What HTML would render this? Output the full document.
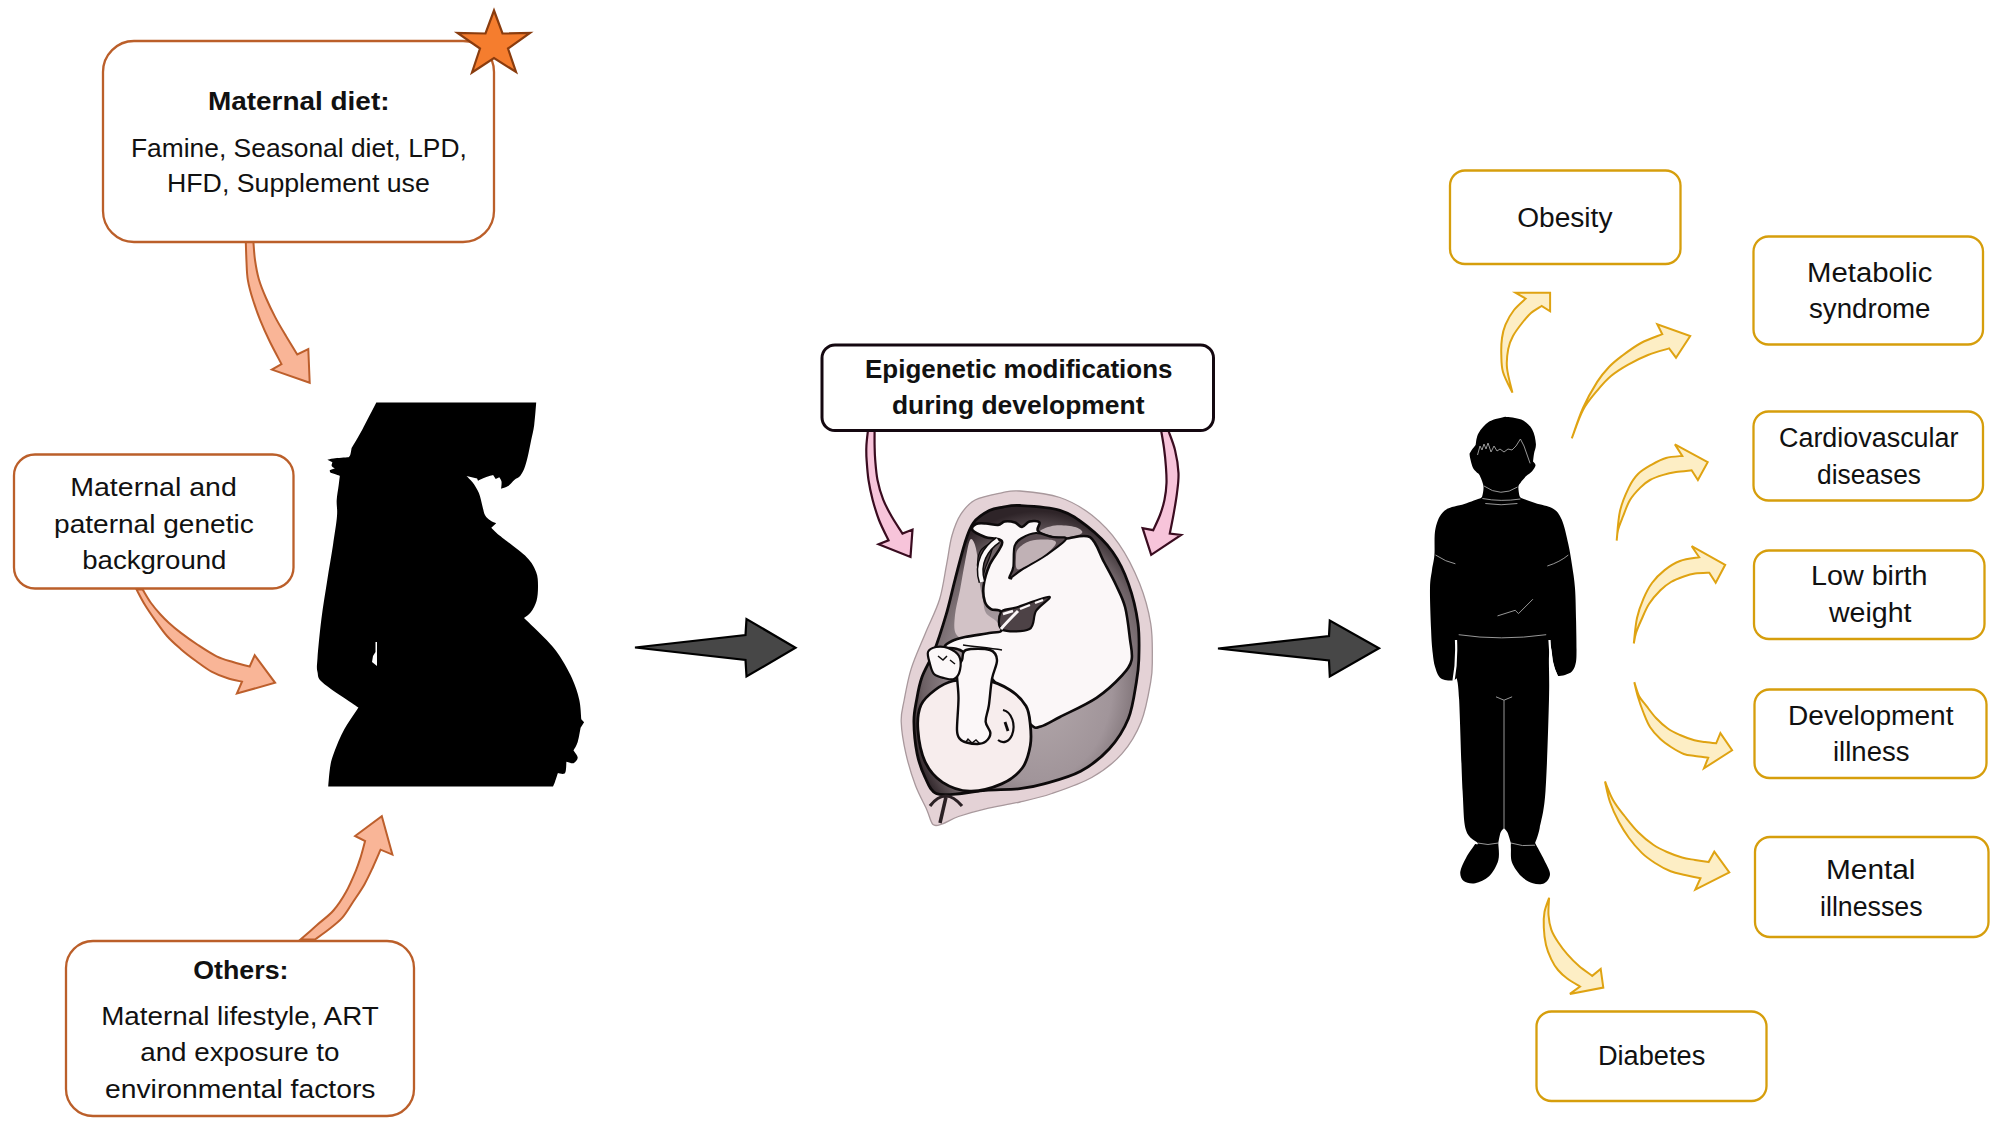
<!DOCTYPE html>
<html><head><meta charset="utf-8">
<style>
html,body{margin:0;padding:0;background:#fff;width:2000px;height:1129px;overflow:hidden}
svg{display:block}
text{font-family:"Liberation Sans",sans-serif;fill:#111}
.b{font-weight:bold}
</style></head><body>
<svg width="2000" height="1129" viewBox="0 0 2000 1129">
<rect width="2000" height="1129" fill="#fff"/>

<!-- ARROWS -->
<g fill="#f9b597" stroke="#bd5f2c" stroke-width="2" stroke-linejoin="miter">
<path d="M245.8,242.0 C245.9,245.3 246.2,255.6 246.5,262.0 C246.8,268.4 246.8,274.0 247.9,280.3 C249.0,286.6 250.9,293.4 253.0,300.0 C255.1,306.6 257.4,313.2 260.2,320.2 C263.0,327.2 266.4,334.7 270.0,342.0 C273.6,349.3 279.6,360.4 281.5,364.1 L271.9,369.6 L309.7,382.7 L308.3,349.0 L297.3,354.5 C295.4,351.4 289.7,342.2 286.0,336.0 C282.3,329.8 278.6,323.7 275.3,317.4 C272.0,311.1 268.8,304.4 266.0,298.0 C263.2,291.6 260.6,285.3 258.8,279.0 C257.0,272.7 255.9,266.2 255.0,260.0 C254.1,253.8 253.7,245.0 253.4,242.0 Z"/>
<path d="M136.6,589.6 C138.0,592.2 141.8,599.8 145.0,605.0 C148.2,610.2 151.8,615.4 155.5,620.6 C159.2,625.8 162.8,631.2 167.0,636.0 C171.2,640.8 176.1,645.0 180.9,649.2 C185.7,653.4 190.9,657.3 196.0,661.0 C201.1,664.7 206.3,668.8 211.5,671.6 C216.7,674.4 221.9,676.3 227.0,678.0 C232.1,679.7 239.5,681.1 242.0,681.7 L236.9,693.5 L275.1,682.8 L254.7,655.3 L249.7,666.5 C246.9,665.8 238.5,663.7 233.0,662.0 C227.5,660.3 222.4,659.1 216.6,656.3 C210.8,653.5 203.9,648.9 198.0,645.0 C192.1,641.1 185.7,636.6 180.9,632.9 C176.1,629.2 172.4,626.1 169.0,623.0 C165.6,619.9 163.5,617.8 160.5,614.5 C157.5,611.2 154.0,607.1 151.0,603.0 C148.0,598.9 144.1,591.8 142.7,589.6 Z"/>
<path d="M300.5,939.6 C303.2,937.2 311.5,929.9 317.0,925.0 C322.5,920.1 328.6,916.0 333.4,910.5 C338.2,905.0 342.3,898.6 346.0,892.0 C349.7,885.4 353.3,876.8 355.8,870.8 C358.3,864.8 359.4,861.0 361.0,856.0 C362.6,851.0 364.4,843.5 365.1,841.0 L355.1,836.0 L381.8,816.2 L392.4,854.6 L380.6,849.7 C379.3,852.6 375.7,861.2 373.0,867.0 C370.3,872.8 367.7,878.6 364.4,884.4 C361.1,890.2 356.7,896.4 353.0,902.0 C349.3,907.6 346.3,913.2 342.1,917.9 C337.9,922.6 332.6,926.4 328.0,930.0 C323.4,933.6 317.0,938.0 314.8,939.6 Z"/>
</g>
<g fill="#f7c4da" stroke="#3a0c20" stroke-width="2.2" stroke-linejoin="miter">
<path d="M867.9,431.0 C867.6,433.5 866.6,441.2 866.4,446.0 C866.2,450.8 866.2,454.2 866.6,459.9 C867.0,465.6 867.5,473.4 868.5,480.0 C869.5,486.6 870.9,493.0 872.6,499.7 C874.4,506.4 876.4,513.2 879.0,520.0 C881.6,526.8 886.9,536.9 888.5,540.3 L878.6,544.3 L910.5,556.9 L912.5,529.6 L902.5,533.6 C900.8,530.8 895.2,522.6 892.0,517.0 C888.8,511.4 885.6,505.9 883.2,499.7 C880.8,493.5 878.8,486.6 877.5,480.0 C876.2,473.4 875.7,465.7 875.2,459.9 C874.7,454.1 874.7,449.8 874.6,445.0 C874.5,440.2 874.6,433.3 874.6,431.0 Z"/>
<path d="M1168.5,431.0 C1169.6,434.2 1173.3,443.0 1175.0,450.0 C1176.7,457.0 1178.2,465.9 1178.5,473.1 C1178.8,480.3 1177.8,486.4 1177.0,493.0 C1176.2,499.6 1175.0,506.2 1173.8,513.0 C1172.6,519.8 1170.5,530.1 1169.8,533.5 L1181.1,534.9 L1151.2,554.8 L1142.6,528.2 L1153.2,530.2 C1154.3,527.7 1158.1,520.1 1160.0,515.0 C1161.9,509.9 1163.4,505.0 1164.5,499.7 C1165.6,494.4 1166.3,488.5 1166.5,483.0 C1166.7,477.5 1166.3,472.3 1165.9,466.5 C1165.5,460.7 1164.8,453.9 1164.0,448.0 C1163.2,442.1 1161.7,433.8 1161.2,431.0 Z"/>
</g>
<g fill="#fdeec5" stroke="#dfa312" stroke-width="2" stroke-linejoin="miter">
<path d="M1512.4,392.6 C1510.8,389.2 1504.8,378.4 1503.0,372.0 C1501.2,365.6 1501.5,360.1 1501.3,354.4 C1501.1,348.7 1501.3,343.0 1502.0,338.0 C1502.7,333.0 1503.5,329.3 1505.5,324.6 C1507.5,319.9 1510.6,314.3 1514.0,310.0 C1517.4,305.7 1523.8,300.5 1525.7,298.6 L1515.6,292.8 L1550.1,292.8 L1550.1,311.3 L1541.6,306.0 C1539.8,307.2 1534.2,310.2 1531.0,313.0 C1527.8,315.8 1525.5,318.7 1522.5,322.5 C1519.5,326.3 1515.4,331.6 1513.0,336.0 C1510.6,340.4 1509.2,343.8 1508.2,349.1 C1507.2,354.4 1506.3,360.8 1507.0,368.0 C1507.7,375.2 1511.5,388.5 1512.4,392.6 Z"/>
<path d="M1571.8,438.3 C1573.7,433.2 1578.8,417.4 1583.0,408.0 C1587.2,398.6 1592.9,388.7 1597.2,381.9 C1601.5,375.1 1604.9,371.3 1609.0,367.0 C1613.1,362.7 1616.7,359.9 1622.0,355.9 C1627.3,351.9 1634.3,346.6 1641.0,343.0 C1647.7,339.4 1658.8,335.7 1662.3,334.2 L1657.3,324.3 L1690.2,336.0 L1676.0,357.7 L1669.1,348.4 C1665.6,349.5 1654.8,352.3 1648.0,355.0 C1641.2,357.7 1634.4,361.1 1628.2,364.6 C1622.0,368.1 1616.2,371.7 1611.0,376.0 C1605.8,380.3 1601.9,384.9 1597.2,390.6 C1592.5,396.3 1587.2,402.1 1583.0,410.0 C1578.8,417.9 1573.7,433.6 1571.8,438.3 Z"/>
<path d="M1616.7,540.6 C1617.2,535.7 1618.0,519.8 1620.0,511.0 C1622.0,502.2 1625.8,493.8 1628.8,487.6 C1631.8,481.4 1634.2,477.8 1638.0,474.0 C1641.8,470.2 1647.1,467.3 1651.8,464.6 C1656.5,461.9 1660.9,459.4 1666.0,458.0 C1671.1,456.6 1679.6,456.2 1682.3,455.9 L1674.9,444.4 L1707.7,462.2 L1697.9,480.1 L1691.6,470.3 C1689.0,470.6 1680.7,471.2 1676.0,472.0 C1671.3,472.8 1667.6,473.6 1663.3,474.9 C1659.0,476.2 1653.8,477.9 1650.0,480.0 C1646.2,482.1 1643.6,484.3 1640.3,487.6 C1637.0,490.9 1632.9,495.2 1630.0,500.0 C1627.1,504.8 1625.0,511.4 1623.0,516.4 C1621.0,521.4 1619.0,526.0 1618.0,530.0 C1617.0,534.0 1616.9,538.8 1616.7,540.6 Z"/>
<path d="M1633.8,643.4 C1634.3,639.2 1635.4,625.4 1637.0,618.0 C1638.6,610.6 1640.9,604.6 1643.4,598.8 C1645.9,593.0 1648.5,587.8 1652.0,583.0 C1655.5,578.2 1659.9,573.8 1664.6,570.1 C1669.3,566.4 1674.2,563.1 1680.0,561.0 C1685.8,558.9 1696.0,557.9 1699.2,557.3 L1691.7,546.2 L1725.2,564.8 L1715.7,582.8 L1709.3,572.7 C1706.9,572.8 1699.2,572.9 1695.0,573.5 C1690.8,574.1 1687.8,575.1 1683.8,576.5 C1679.8,577.9 1674.9,579.7 1671.0,582.0 C1667.1,584.3 1664.1,586.6 1660.4,590.3 C1656.7,594.0 1652.2,599.0 1649.0,604.0 C1645.8,609.0 1643.5,615.2 1641.3,620.0 C1639.1,624.8 1637.2,629.1 1636.0,633.0 C1634.8,636.9 1634.2,641.7 1633.8,643.4 Z"/>
<path d="M1634.3,682.2 C1635.1,684.5 1637.0,692.0 1639.0,696.0 C1641.0,700.0 1643.8,702.4 1646.6,706.1 C1649.4,709.8 1652.5,714.3 1656.0,718.0 C1659.5,721.7 1663.8,725.7 1667.8,728.5 C1671.8,731.3 1675.6,733.0 1680.0,735.0 C1684.4,737.0 1690.2,739.0 1694.4,740.2 C1698.6,741.4 1701.4,741.5 1705.0,742.0 C1708.6,742.5 1714.3,743.1 1716.2,743.3 L1720.4,733.2 L1732.1,750.3 L1704.0,768.3 L1708.2,757.7 C1706.0,757.4 1699.1,756.6 1695.0,756.0 C1690.9,755.4 1687.8,755.5 1683.8,754.0 C1679.8,752.5 1674.9,749.5 1671.0,747.0 C1667.1,744.5 1663.9,742.4 1660.4,739.1 C1656.9,735.8 1652.8,731.4 1650.0,727.0 C1647.2,722.6 1645.4,717.5 1643.4,712.5 C1641.4,707.5 1639.5,702.0 1638.0,697.0 C1636.5,692.0 1634.9,684.7 1634.3,682.2 Z"/>
<path d="M1605.0,781.5 C1606.3,784.6 1609.8,794.2 1613.0,800.0 C1616.2,805.8 1620.3,810.7 1624.5,816.0 C1628.7,821.3 1633.2,827.2 1638.0,832.0 C1642.8,836.8 1648.5,841.5 1653.3,844.8 C1658.1,848.1 1662.2,849.9 1667.0,852.0 C1671.8,854.1 1677.4,856.2 1682.1,857.5 C1686.8,858.8 1690.6,859.2 1695.0,860.0 C1699.4,860.8 1706.3,861.8 1708.6,862.1 L1714.3,851.7 L1729.3,872.5 L1695.3,889.7 L1700.5,878.2 C1697.9,877.7 1690.0,876.1 1685.0,875.0 C1680.0,873.9 1675.6,873.3 1670.6,871.3 C1665.6,869.3 1659.8,866.1 1655.0,863.0 C1650.2,859.9 1646.1,857.1 1641.8,852.9 C1637.5,848.7 1632.8,843.2 1629.0,838.0 C1625.2,832.8 1622.0,827.8 1618.8,821.8 C1615.6,815.8 1612.3,808.7 1610.0,802.0 C1607.7,795.3 1605.8,784.9 1605.0,781.5 Z"/>
<path d="M1549.1,897.8 C1548.3,900.2 1545.4,907.0 1544.5,912.0 C1543.6,917.0 1543.5,922.0 1543.8,927.5 C1544.0,933.0 1544.8,939.7 1546.0,945.0 C1547.2,950.3 1549.3,955.2 1551.3,959.4 C1553.3,963.6 1555.3,966.8 1558.0,970.0 C1560.7,973.2 1563.5,975.8 1567.2,978.5 C1570.9,981.2 1577.9,985.2 1580.0,986.5 L1569.9,993.9 L1603.3,987.6 L1600.7,969.0 L1592.2,975.9 C1590.0,974.2 1583.2,969.6 1579.0,966.0 C1574.8,962.4 1570.7,958.1 1567.2,954.1 C1563.7,950.1 1560.7,946.1 1558.0,942.0 C1555.3,937.9 1552.9,934.1 1551.3,929.6 C1549.7,925.1 1548.9,920.3 1548.5,915.0 C1548.1,909.7 1549.0,900.7 1549.1,897.8 Z"/>
</g>
<!-- END ARROWS -->

<!-- ORANGE BOXES -->
<g fill="#fff" stroke="#bb5f2a" stroke-width="2.3">
<rect x="103" y="41" width="391" height="201" rx="31"/>
<rect x="14" y="454.5" width="279.5" height="134" rx="21"/>
<rect x="66" y="941" width="348" height="175" rx="27"/>
</g>
<!-- EPIGENETIC BOX -->
<rect x="822" y="345" width="391.5" height="85.5" rx="13" fill="#fff" stroke="#140810" stroke-width="3"/>
<!-- YELLOW BOXES -->
<g fill="#fff" stroke="#d69e0c" stroke-width="2.3">
<rect x="1450" y="170.5" width="230.5" height="93.5" rx="15"/>
<rect x="1753.5" y="236.5" width="229.5" height="108" rx="15"/>
<rect x="1753.5" y="411.5" width="229.5" height="89" rx="15"/>
<rect x="1754" y="550.5" width="230.5" height="88.5" rx="15"/>
<rect x="1754.5" y="689.5" width="232" height="88.5" rx="15"/>
<rect x="1755" y="837" width="233.5" height="100" rx="15"/>
<rect x="1536.5" y="1011.5" width="230" height="89.5" rx="15"/>
</g>


<!-- STAR -->
<path d="M494,10.5 L502.5,33.5 L530,33 L508,48.5 L516,72 L494,58 L472,72.5 L480,48.5 L457.5,33 L485.5,33.5 Z" fill="#f57d2e" stroke="#8a3c0e" stroke-width="2.2" stroke-linejoin="miter"/>

<!-- FETUS -->
<defs>
<radialGradient id="cg" cx="0.55" cy="0.62" r="0.6">
<stop offset="0" stop-color="#b4a9ac"/><stop offset="0.55" stop-color="#a1959a"/><stop offset="0.85" stop-color="#6c6064"/><stop offset="1" stop-color="#2e2428"/>
</radialGradient>
</defs>
<path d="M1020.0,491.0 C1029.7,491.8 1048.0,493.5 1059.9,497.5 C1071.9,501.5 1081.9,507.4 1091.7,515.1 C1101.5,522.8 1110.8,532.4 1118.8,543.8 C1126.8,555.2 1134.3,570.3 1139.6,583.6 C1144.9,596.9 1148.6,610.8 1150.7,623.5 C1152.8,636.2 1152.3,650.3 1152.3,660.0 C1152.3,669.7 1152.5,671.6 1150.7,681.9 C1148.9,692.2 1146.0,709.8 1141.2,721.7 C1136.4,733.7 1130.2,744.3 1122.0,753.6 C1113.8,762.9 1103.4,770.9 1091.7,777.5 C1080.0,784.1 1063.9,789.4 1051.9,793.5 C1040.0,797.6 1031.0,799.5 1020.0,802.0 C1009.0,804.5 995.9,806.4 985.6,808.8 C975.4,811.2 965.7,814.0 958.5,816.5 C951.3,819.0 946.9,822.5 942.6,823.8 C938.4,825.1 935.6,826.9 933.0,824.5 C930.4,822.1 929.6,815.9 926.7,809.4 C923.8,802.9 919.0,794.8 915.5,785.5 C912.0,776.2 908.3,764.2 905.9,753.6 C903.5,743.0 901.5,730.6 901.2,721.7 C900.9,712.8 902.5,708.9 904.2,700.0 C905.9,691.1 907.8,679.6 911.3,668.4 C914.8,657.2 920.8,644.5 925.5,633.0 C930.2,621.5 936.1,610.8 939.6,599.3 C943.1,587.8 944.6,574.4 946.7,563.8 C948.8,553.2 949.6,543.8 952.0,535.5 C954.4,527.2 957.0,520.1 960.9,514.2 C964.8,508.3 968.3,503.6 975.1,500.0 C981.9,496.4 994.1,494.3 1001.6,492.8 C1009.1,491.3 1010.3,490.2 1020.0,491.0 Z" fill="#e4d2d6" stroke="#a8989c" stroke-width="1.3"/>
<path d="M1020.0,505.5 C1029.5,506.0 1048.7,506.9 1059.9,510.3 C1071.1,513.8 1078.2,519.3 1087.0,526.2 C1095.8,533.1 1105.6,542.1 1112.5,551.7 C1119.4,561.3 1124.2,571.6 1128.4,583.6 C1132.7,595.6 1136.3,610.8 1138.0,623.5 C1139.7,636.2 1139.1,650.3 1138.8,660.0 C1138.5,669.7 1138.1,672.1 1136.4,681.9 C1134.7,691.6 1132.9,707.4 1128.4,718.5 C1123.9,729.6 1117.3,740.0 1109.3,748.8 C1101.3,757.6 1091.5,765.4 1080.6,771.2 C1069.7,777.1 1054.0,781.0 1043.9,783.9 C1033.8,786.8 1029.7,787.6 1020.0,788.7 C1010.3,789.8 995.3,789.5 985.6,790.3 C975.9,791.1 969.9,793.0 961.7,793.5 C953.5,794.0 942.3,796.2 936.2,793.5 C930.1,790.8 928.3,784.1 925.1,777.5 C921.9,770.9 919.0,762.9 917.1,753.6 C915.2,744.3 914.0,730.6 913.9,721.7 C913.8,712.8 915.3,707.4 916.6,700.0 C917.9,692.6 919.0,685.5 921.9,677.3 C924.8,669.1 930.3,661.1 934.3,650.7 C938.3,640.4 942.5,627.0 946.0,615.2 C949.5,603.4 951.9,591.6 955.0,579.8 C958.1,568.0 961.5,553.8 964.5,544.3 C967.5,534.8 969.2,528.6 973.3,523.0 C977.4,517.4 984.3,513.2 989.3,510.6 C994.2,508.0 997.9,508.0 1003.0,507.1 C1008.1,506.2 1010.5,505.0 1020.0,505.5 Z" fill="url(#cg)" stroke="#0d0a0b" stroke-width="2.8"/>
<path d="M970.0,540.0 C968.3,542.8 966.7,553.7 965.0,562.0 C963.3,570.3 961.7,581.2 960.0,590.0 C958.3,598.8 955.7,607.7 955.0,615.0 C954.3,622.3 953.5,629.7 956.0,634.0 C958.5,638.3 964.2,640.5 970.0,641.0 C975.8,641.5 985.8,638.8 991.0,637.0 C996.2,635.2 1000.2,632.7 1001.0,630.0 C1001.8,627.3 998.5,623.8 996.0,621.0 C993.5,618.2 988.2,616.5 986.0,613.0 C983.8,609.5 984.0,604.7 983.0,600.0 C982.0,595.3 980.8,591.3 980.0,585.0 C979.2,578.7 978.8,568.7 978.0,562.0 C977.2,555.3 976.3,548.7 975.0,545.0 C973.7,541.3 971.7,537.2 970.0,540.0 Z" fill="#d2c2c6" stroke="none"/>
<path d="M1040.0,531.0 C1041.2,529.2 1049.2,526.2 1055.0,525.5 C1060.8,524.8 1070.5,525.8 1075.0,527.0 C1079.5,528.2 1083.5,531.2 1082.0,533.0 C1080.5,534.8 1071.7,537.0 1066.0,537.5 C1060.3,538.0 1052.3,537.1 1048.0,536.0 C1043.7,534.9 1038.8,532.8 1040.0,531.0 Z" fill="#bcaeb2" stroke="none"/>
<path d="M982.0,549.0 C984.5,546.5 991.7,541.8 993.0,543.0 C994.3,544.2 991.3,551.7 990.0,556.0 C988.7,560.3 986.3,565.0 985.0,569.0 C983.7,573.0 983.2,579.7 982.0,580.0 C980.8,580.3 978.7,574.7 978.0,571.0 C977.3,567.3 977.3,561.7 978.0,558.0 C978.7,554.3 979.5,551.5 982.0,549.0 Z" fill="#4c4044" stroke="#0d0a0b" stroke-width="1.2"/>
<path d="M972.4,530.0 C970.9,527.8 973.7,525.1 976.0,524.0 C978.3,522.9 982.3,523.3 986.0,523.5 C989.7,523.7 994.9,525.3 998.0,525.0 C1001.1,524.7 1001.9,521.9 1004.7,521.5 C1007.5,521.1 1012.1,521.6 1015.0,522.5 C1017.9,523.4 1019.6,527.2 1022.0,527.0 C1024.4,526.8 1026.6,522.3 1029.5,521.5 C1032.4,520.7 1038.0,520.8 1039.4,522.4 C1040.8,524.0 1035.9,528.6 1038.0,531.0 C1040.1,533.4 1047.3,535.8 1052.0,537.0 C1056.7,538.2 1059.7,538.5 1066.0,538.5 C1072.3,538.5 1083.7,533.3 1090.0,537.2 C1096.3,541.1 1099.7,554.0 1104.0,562.0 C1108.3,570.0 1112.5,577.4 1116.0,585.0 C1119.5,592.6 1122.9,598.4 1125.2,607.5 C1127.5,616.6 1128.9,630.6 1130.0,639.4 C1131.1,648.1 1132.9,654.0 1131.6,660.0 C1130.3,666.0 1127.8,669.2 1122.0,675.5 C1116.2,681.8 1106.8,690.9 1096.5,697.8 C1086.2,704.7 1069.2,712.2 1059.9,717.0 C1050.6,721.8 1045.5,725.2 1040.7,726.5 C1035.9,727.8 1036.3,729.3 1031.2,724.9 C1026.1,720.5 1016.5,707.6 1010.0,700.0 C1003.5,692.4 997.8,685.3 992.0,679.0 C986.2,672.7 980.3,666.8 975.0,662.0 C969.7,657.2 965.0,652.5 960.0,650.0 C955.0,647.5 946.3,648.5 945.0,647.0 C943.7,645.5 948.7,642.7 952.0,641.0 C955.3,639.3 958.5,638.4 965.0,637.0 C971.5,635.6 984.8,634.0 991.0,632.8 C997.2,631.6 1000.3,633.5 1002.0,630.0 C1003.7,626.5 1002.8,615.5 1001.0,612.0 C999.2,608.5 993.7,610.9 991.0,609.2 C988.3,607.5 986.0,605.6 984.8,601.7 C983.6,597.8 982.8,591.8 983.6,585.6 C984.4,579.4 986.7,571.7 989.8,564.5 C992.9,557.3 1003.0,546.8 1002.2,542.2 C1001.4,537.6 990.0,539.0 985.0,537.0 C980.0,535.0 973.9,532.2 972.4,530.0 Z" fill="#fbf7f8" stroke="#0d0a0b" stroke-width="2.6"/>
<path d="M1014.6,546.0 C1016.1,541.2 1018.4,540.2 1022.0,538.0 C1025.6,535.8 1031.0,533.2 1036.0,533.0 C1041.0,532.8 1047.0,536.0 1052.0,537.0 C1057.0,538.0 1066.9,536.1 1066.0,539.0 C1065.1,541.9 1054.1,549.5 1046.8,554.6 C1039.5,559.7 1028.2,565.6 1022.0,569.5 C1015.8,573.4 1011.1,578.6 1009.6,578.2 C1008.1,577.8 1012.5,572.4 1013.3,567.0 C1014.1,561.6 1013.1,550.8 1014.6,546.0 Z" fill="#594c51" stroke="#0d0a0b" stroke-width="2.2"/>
<path d="M1018.0,549.0 C1020.3,546.2 1025.0,542.6 1030.0,541.0 C1035.0,539.4 1043.7,539.2 1048.0,539.5 C1052.3,539.8 1056.3,540.6 1056.0,543.0 C1055.7,545.4 1051.0,550.2 1046.0,554.0 C1041.0,557.8 1030.8,563.5 1026.0,566.0 C1021.2,568.5 1018.7,570.3 1017.0,569.0 C1015.3,567.7 1015.8,561.3 1016.0,558.0 C1016.2,554.7 1015.7,551.8 1018.0,549.0 Z" fill="#c0b1b5" stroke="none"/>
<path d="M1001.0,612.0 C1003.3,608.3 1008.0,610.0 1016.0,607.5 C1024.0,605.0 1046.0,596.2 1049.3,596.8 C1052.6,597.4 1039.3,605.6 1036.0,611.0 C1032.7,616.4 1035.2,625.9 1029.5,629.0 C1023.8,632.1 1006.8,632.3 1002.0,629.5 C997.2,626.7 998.7,615.7 1001.0,612.0 Z" fill="#4d4246" stroke="#0d0a0b" stroke-width="2.2"/>
<path d="M1003,614 L1013,611 M1020,609 L1030,605 M1035,603 L1043,600" stroke="#fbf7f8" stroke-width="2.4"/>
<path d="M1018,611 C1012,617 1006,623 1001,629" fill="none" stroke="#fbf7f8" stroke-width="3"/>
<path d="M998,540 C986,548 976,563 982,582" fill="none" stroke="#0d0a0b" stroke-width="7"/>
<path d="M998,540 C986,548 976,563 982,582" fill="none" stroke="#fbf7f8" stroke-width="4"/>
<path d="M917.9,729.7 C917.2,720.3 918.1,711.6 921.0,705.0 C923.9,698.4 929.7,694.0 935.0,690.0 C940.3,686.0 944.7,682.7 953.0,681.0 C961.3,679.3 975.5,678.5 985.0,680.0 C994.5,681.5 1003.2,685.7 1010.0,690.0 C1016.8,694.3 1022.6,700.2 1026.0,706.0 C1029.4,711.8 1029.6,718.3 1030.3,724.9 C1031.0,731.5 1031.6,738.4 1030.3,745.6 C1029.0,752.8 1027.1,761.6 1022.3,768.0 C1017.5,774.4 1010.4,780.0 1001.6,783.9 C992.8,787.8 979.5,791.4 969.7,791.1 C959.9,790.8 950.1,787.2 942.6,782.3 C935.1,777.4 929.1,770.4 925.0,761.6 C920.9,752.8 918.6,739.1 917.9,729.7 Z" fill="#f7eded" stroke="#0d0a0b" stroke-width="2.8"/>
<path d="M966.0,650.0 C961.3,651.7 963.5,656.5 962.0,660.0 C960.5,663.5 957.6,664.7 957.0,671.0 C956.4,677.3 958.5,688.2 958.5,698.0 C958.5,707.8 956.8,723.2 957.0,730.0 C957.2,736.8 958.4,736.9 960.0,739.0 C961.6,741.1 963.5,741.7 966.5,742.5 C969.5,743.3 974.5,744.1 977.7,744.0 C980.9,743.9 983.5,743.5 985.6,741.7 C987.7,739.9 990.4,736.3 990.4,733.0 C990.4,729.7 985.9,726.2 985.6,721.7 C985.3,717.2 987.7,713.0 988.8,705.8 C989.9,698.6 990.6,686.3 992.0,678.7 C993.4,671.1 997.3,664.8 997.0,660.0 C996.7,655.2 995.2,651.7 990.0,650.0 C984.8,648.3 970.7,648.3 966.0,650.0 Z" fill="#fbf7f8" stroke="#0d0a0b" stroke-width="2.4"/>
<path d="M928.0,652.0 C927.0,654.8 929.0,660.3 930.0,664.0 C931.0,667.7 931.7,671.7 934.0,674.0 C936.3,676.3 940.7,677.2 944.0,678.0 C947.3,678.8 951.3,680.3 954.0,679.0 C956.7,677.7 959.2,673.8 960.0,670.0 C960.8,666.2 961.0,659.7 959.0,656.0 C957.0,652.3 951.8,649.5 948.0,648.0 C944.2,646.5 939.3,646.3 936.0,647.0 C932.7,647.7 929.0,649.2 928.0,652.0 Z" fill="#fbf7f8" stroke="#0d0a0b" stroke-width="2.2"/>
<path d="M938,656 L943,660 L947,656 M950,660 L955,664" fill="none" stroke="#0d0a0b" stroke-width="1.5"/>
<path d="M1003,710 C1012,712 1016,725 1012,735 C1009,742 1003,744 998,740" fill="none" stroke="#0d0a0b" stroke-width="2.2"/>
<path d="M1005,722 L1008,731" stroke="#0d0a0b" stroke-width="2.8"/>
<path d="M966,742 L968,739 L972,743 L976,740 L980,744" fill="none" stroke="#0d0a0b" stroke-width="1.4"/>
<path d="M930,806 C936,798 941,796 946,796 C951,796 956,799 962,806" fill="none" stroke="#2a2024" stroke-width="3.2"/>
<path d="M940,823 L946,797" stroke="#2a2024" stroke-width="3.5"/>
<path d="M963,645 C978,647 990,648 1002,650" fill="none" stroke="#0d0a0b" stroke-width="1.4"/>
<path d="M1009,577 L1012,579" stroke="#0d0a0b" stroke-width="2.5"/>
<!-- END FETUS -->


<!-- DARK ARROWS -->
<g fill="#474747" stroke="#000" stroke-width="2.2" stroke-linejoin="miter">
<path d="M635,647.5 L745.5,635 L746.5,619 L795.5,647.8 L746.5,676.5 L745.5,660 Z"/>
<path d="M1218,648.5 L1329,636 L1329.8,620.5 L1379,648.2 L1329.8,676.5 L1329,660.5 Z"/>
</g>

<!-- PREGNANT WOMAN -->
<path fill="#000" d="M376.3,402.6 L536.2,402.6 C535.9,406.3 535.0,418.8 534.2,425.0 C533.4,431.2 532.2,435.3 531.2,440.0 C530.2,444.7 529.5,448.9 528.5,453.3 C527.5,457.7 526.3,462.9 525.0,466.6 C523.7,470.3 522.3,473.2 520.5,475.4 C518.7,477.6 516.4,478.1 514.3,479.9 C512.2,481.7 510.3,484.6 508.1,486.1 C505.9,487.6 502.3,488.3 501.1,488.7 C501.2,487.5 501.8,483.5 501.5,481.6 C501.2,479.7 499.7,477.9 499.3,477.2 L495.7,479.0 L493.1,475.0 C492.4,475.2 490.6,475.6 488.7,476.3 C486.8,477.0 483.4,478.3 481.6,479.0 C479.8,479.7 478.6,480.4 478.0,480.7 L477.1,478.5 L466.5,475.9 C467.5,477.0 470.6,479.6 472.7,482.5 C474.8,485.4 477.3,489.1 478.9,493.1 C480.5,497.1 481.5,502.7 482.5,506.4 C483.5,510.1 483.8,512.9 485.1,515.3 C486.4,517.7 488.5,519.3 490.4,520.6 C492.2,521.9 495.2,522.8 496.2,523.3 L491.3,527.7 C492.2,528.6 494.5,531.1 496.6,533.0 C498.7,534.9 498.9,534.9 504.0,539.0 C509.1,543.1 521.5,551.9 526.9,557.4 C532.3,562.9 534.4,567.3 536.2,572.3 C538.1,577.2 538.0,582.3 538.0,587.1 C538.0,591.9 537.7,596.9 536.5,601.0 C535.3,605.1 533.1,609.2 531.0,612.0 C528.9,614.8 525.2,617.0 524.0,618.0 C527.8,621.7 540.7,633.7 546.6,640.0 C552.5,646.3 555.1,649.2 559.3,655.6 C563.5,662.0 568.7,670.9 572.0,678.2 C575.3,685.5 577.7,692.6 579.2,699.5 C580.8,706.4 580.9,716.0 581.3,719.3 L584.1,722.2 L580.6,727.8 C580.1,730.2 578.9,738.2 577.7,742.0 C576.5,745.8 574.2,749.1 573.5,750.5 C574.2,751.7 577.7,755.5 577.7,757.6 C577.7,759.7 575.4,762.5 573.5,763.2 C571.6,763.9 567.6,762.0 566.4,761.8 C566.2,763.7 566.4,771.2 565.0,773.1 C563.6,775.0 559.1,773.1 557.9,773.1 C557.4,774.5 555.9,779.4 555.1,781.6 C554.3,783.9 553.4,785.8 553.0,786.6 L328.2,786.5 C328.5,783.4 329.2,773.2 330.0,768.0 C330.8,762.8 331.0,761.3 333.1,755.3 C335.2,749.3 338.7,740.0 342.9,732.0 C347.1,724.0 355.8,711.7 358.4,707.6 C352.6,703.5 330.2,689.2 323.4,683.3 C316.6,677.4 318.5,676.2 317.5,672.0 C316.5,667.8 316.9,666.7 317.5,657.9 C318.1,649.1 319.8,632.0 321.4,619.0 C323.0,606.0 325.4,592.3 327.3,580.0 C329.2,567.7 331.4,555.7 333.0,545.0 C334.6,534.3 336.4,523.5 337.0,516.0 C337.6,508.5 336.4,505.0 336.7,500.0 C337.0,495.0 338.1,489.8 338.6,485.8 C339.1,481.8 339.6,477.5 339.8,475.9 C339.2,475.7 337.7,475.1 336.1,474.6 C334.6,474.1 331.4,473.1 330.5,472.8 C330.4,472.4 329.2,471.0 329.9,470.3 C330.6,469.6 334.0,468.7 334.8,468.4 C334.3,468.0 332.1,467.0 331.7,466.0 C331.3,465.0 332.3,462.8 332.4,462.2 L327.4,459.8 C328.4,459.6 330.1,458.9 333.6,458.5 C337.1,458.1 346.0,457.5 348.5,457.3 C348.8,456.9 349.8,456.4 350.3,454.8 C350.8,453.2 351.4,449.1 351.6,448.0 C353.4,445.0 358.0,437.6 362.1,430.0 C366.2,422.4 373.9,407.2 376.3,402.6 Z"/>
<path fill="#fff" d="M375.5,642 L377,642 L377,666 L372,662 L373,656 L375.5,652 Z"/>
<!-- END WOMAN -->

<!-- CHILD -->
<path fill="#000" d="M1505.3,416.7 C1508.0,417.2 1516.8,417.5 1521.3,419.6 C1525.8,421.7 1529.7,425.2 1532.1,429.3 C1534.5,433.4 1535.6,439.8 1535.9,443.9 C1536.2,448.0 1534.5,450.8 1534.0,453.7 C1533.5,456.6 1533.2,460.2 1533.0,461.5 C1533.4,462.1 1535.7,463.8 1535.5,465.4 C1535.3,467.0 1533.6,469.4 1532.1,471.2 C1530.5,473.0 1528.2,474.2 1526.2,476.1 C1524.2,478.1 1521.7,481.1 1520.4,482.9 C1519.1,484.7 1518.6,484.7 1518.4,486.8 C1518.2,488.9 1519.0,493.7 1519.4,495.6 C1519.8,497.5 1520.7,497.6 1521.0,498.0 C1523.3,498.8 1529.8,501.2 1535.1,503.0 C1540.4,504.8 1548.4,505.8 1552.8,508.5 C1557.2,511.2 1559.1,513.6 1561.7,519.5 C1564.3,525.4 1566.6,536.3 1568.3,543.9 C1570.0,551.5 1570.9,557.6 1572.0,565.0 C1573.1,572.4 1574.3,578.8 1575.0,588.2 C1575.7,597.6 1575.8,610.6 1576.1,621.4 C1576.3,632.2 1576.6,645.8 1576.5,653.0 C1576.4,660.2 1576.2,661.4 1575.4,664.5 C1574.6,667.6 1573.6,669.7 1571.9,671.4 C1570.2,673.1 1567.3,674.1 1565.0,674.9 C1562.7,675.7 1559.2,675.8 1558.1,676.0 C1557.3,674.1 1554.7,669.1 1553.5,664.5 C1552.3,659.9 1552.0,649.8 1551.2,648.4 C1550.5,647.0 1549.4,647.6 1549.0,656.0 C1548.6,664.4 1549.6,676.5 1549.0,699.0 C1548.4,721.5 1547.0,769.6 1545.5,791.1 C1544.0,812.6 1541.4,819.4 1539.7,828.0 C1538.0,836.6 1535.9,840.5 1535.1,843.0 C1536.6,845.9 1541.8,855.0 1544.3,860.2 C1546.8,865.4 1550.0,870.2 1550.0,874.0 C1550.0,877.8 1547.2,881.7 1544.3,883.2 C1541.4,884.7 1536.6,884.4 1532.8,883.2 C1529.0,882.1 1524.8,879.8 1521.3,876.3 C1517.8,872.8 1513.7,867.1 1512.0,862.5 C1510.3,857.9 1511.1,852.0 1510.9,848.7 C1510.7,845.5 1510.9,844.0 1510.9,843.0 C1510.3,841.3 1508.7,835.1 1507.5,832.6 C1506.3,830.1 1504.6,828.8 1504.0,828.0 C1503.4,828.8 1501.5,830.1 1500.6,832.6 C1499.6,835.1 1498.7,841.3 1498.3,843.0 C1498.3,845.9 1499.8,854.7 1498.3,860.2 C1496.8,865.8 1492.9,872.5 1489.1,876.3 C1485.2,880.1 1479.4,882.4 1475.2,883.2 C1471.0,884.0 1466.2,882.8 1463.7,880.9 C1461.2,879.0 1459.9,875.5 1460.3,871.7 C1460.7,867.9 1463.5,862.5 1466.0,857.9 C1468.5,853.3 1473.7,846.3 1475.2,844.0 C1475.6,843.8 1479.1,845.3 1477.6,843.0 C1476.1,840.7 1468.5,838.9 1466.0,830.3 C1463.5,821.6 1463.8,813.0 1462.6,791.1 C1461.4,769.2 1460.1,717.8 1459.1,699.0 C1458.1,680.2 1457.2,681.8 1456.8,678.3 C1456.0,678.7 1454.9,680.6 1452.2,680.6 C1449.5,680.6 1443.6,680.6 1440.7,678.3 C1437.8,676.0 1436.3,671.0 1435.0,666.8 C1433.7,662.6 1433.4,659.1 1432.7,653.0 C1432.0,646.9 1431.5,640.8 1431.1,630.0 C1430.6,619.2 1429.8,598.2 1430.0,588.2 C1430.2,578.2 1431.3,575.5 1432.0,570.0 C1432.7,564.5 1433.8,561.9 1434.4,555.0 C1435.0,548.1 1433.8,535.8 1435.5,528.4 C1437.2,521.0 1439.6,514.8 1444.4,510.7 C1449.2,506.6 1458.2,506.1 1464.3,504.0 C1470.4,501.9 1478.2,499.0 1481.0,498.0 C1481.2,497.6 1482.0,497.6 1482.4,495.6 C1482.8,493.6 1483.9,489.2 1483.4,485.8 C1482.9,482.4 1480.6,477.4 1479.5,475.1 C1478.4,472.8 1477.7,473.5 1476.6,472.2 C1475.5,470.9 1473.8,470.1 1472.7,467.3 C1471.6,464.5 1470.0,458.2 1469.7,455.6 C1469.4,453.0 1469.7,453.5 1470.7,451.7 C1471.7,449.9 1474.8,446.1 1475.6,445.0 C1476.1,443.0 1476.2,437.1 1478.5,433.2 C1480.8,429.3 1484.7,424.4 1489.2,421.6 C1493.7,418.9 1502.6,417.5 1505.3,416.7 Z"/>
<path d="M1456,640 Q1457,662 1453.5,681 M1549.5,640 Q1550,662 1557,677" fill="none" stroke="#fff" stroke-width="2.2"/>
<g fill="none" stroke="#a8a8a8" stroke-width="0.9">
<path d="M1484,486 Q1500.9,498 1517.5,487"/>
<path d="M1482.4,498.5 Q1500.9,502 1520.4,499"/>
<path d="M1485.3,503.5 Q1500.9,506 1517.4,503.5"/>
<path d="M1435.5,555 Q1446,562 1455.4,563.8"/>
<path d="M1547.3,566 Q1560,562 1568.3,555"/>
<path d="M1458.7,634.7 Q1500.8,641 1546.2,634.7"/>
<path d="M1497.5,615.9 L1515.2,610.3 L1518.5,613.6 L1532.9,599.2"/>
<path d="M1496,696.8 L1504,700.2 L1512.1,696.8 M1504,700.2 L1504,828"/>
<path d="M1477.6,843 Q1488,846 1498.3,843"/>
<path d="M1510.9,843 Q1522,847 1535.1,845.2"/>
<path d="M1477.5,455 L1480,446 L1482,450 L1484,444 L1486,449 L1488,443 L1491,452 L1494,446 L1497,451 L1500,449 L1504,452 L1508,449 L1512,450 L1516,446 L1520.4,439 L1524,446 L1530.1,463.4"/>
</g>
<!-- END CHILD -->

<!-- TEXT -->
<g font-size="26">
<text class="b" x="208.0" y="109.7" textLength="181.5" lengthAdjust="spacingAndGlyphs">Maternal diet:</text>
<text x="131.0" y="156.5" textLength="335.8" lengthAdjust="spacingAndGlyphs">Famine, Seasonal diet, LPD,</text>
<text x="167.0" y="191.6" textLength="262.8" lengthAdjust="spacingAndGlyphs">HFD, Supplement use</text>

<text x="70.2" y="496" textLength="166.6" lengthAdjust="spacingAndGlyphs">Maternal and</text>
<text x="54.1" y="532.8" textLength="199.6" lengthAdjust="spacingAndGlyphs">paternal genetic</text>
<text x="82.2" y="569" textLength="144.3" lengthAdjust="spacingAndGlyphs">background</text>

<text class="b" x="193.2" y="978.5" textLength="95.3" lengthAdjust="spacingAndGlyphs">Others:</text>
<text x="101.2" y="1025" textLength="277.5" lengthAdjust="spacingAndGlyphs">Maternal lifestyle, ART</text>
<text x="140.2" y="1061" textLength="199.3" lengthAdjust="spacingAndGlyphs">and exposure to</text>
<text x="105.0" y="1097.7" textLength="270.5" lengthAdjust="spacingAndGlyphs">environmental factors</text>

<text class="b" x="865.0" y="378" textLength="307.5" lengthAdjust="spacingAndGlyphs">Epigenetic modifications</text>
<text class="b" x="891.9" y="414.3" textLength="252.6" lengthAdjust="spacingAndGlyphs">during development</text>
</g>
<g font-size="27">
<text x="1517.2" y="226.5" textLength="95.3" lengthAdjust="spacingAndGlyphs">Obesity</text>
<text x="1807.0" y="281.5" textLength="125.5" lengthAdjust="spacingAndGlyphs">Metabolic</text>
<text x="1809.0" y="318" textLength="121.5" lengthAdjust="spacingAndGlyphs">syndrome</text>
<text x="1779.0" y="446.5" textLength="179.5" lengthAdjust="spacingAndGlyphs">Cardiovascular</text>
<text x="1817.0" y="483.5" textLength="104.0" lengthAdjust="spacingAndGlyphs">diseases</text>
<text x="1811.0" y="585" textLength="116.5" lengthAdjust="spacingAndGlyphs">Low birth</text>
<text x="1829.0" y="621.5" textLength="82.5" lengthAdjust="spacingAndGlyphs">weight</text>
<text x="1788.0" y="724.5" textLength="165.5" lengthAdjust="spacingAndGlyphs">Development</text>
<text x="1833.0" y="761" textLength="76.5" lengthAdjust="spacingAndGlyphs">illness</text>
<text x="1826.0" y="879" textLength="89.5" lengthAdjust="spacingAndGlyphs">Mental</text>
<text x="1820.0" y="915.5" textLength="102.5" lengthAdjust="spacingAndGlyphs">illnesses</text>
<text x="1597.9" y="1065.3" textLength="107.4" lengthAdjust="spacingAndGlyphs">Diabetes</text>
</g>

</svg>
</body></html>
